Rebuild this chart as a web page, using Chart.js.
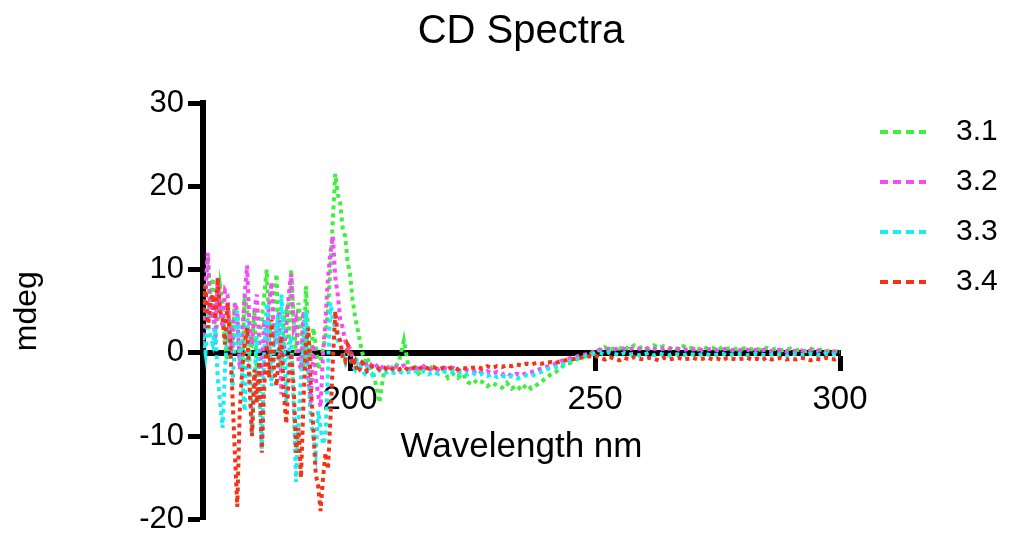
<!DOCTYPE html>
<html>
<head>
<meta charset="utf-8">
<title>CD Spectra</title>
<script src="https://cdn.jsdelivr.net/npm/chart.js@4.4.1/dist/chart.umd.min.js"></script>
<style>
  html, body { margin: 0; padding: 0; background: #fff; }
</style>
</head>
<body>
<canvas id="cd-chart" width="1010" height="542"></canvas>
<script>
// Scan grid: 0.5 nm steps from 170 to 205 nm, then 1 nm steps up to 300 nm
const fineNm = Array.from({ length: 71 }, (_, i) => 170 + i * 0.5);
const coarseNm = Array.from({ length: 95 }, (_, i) => 206 + i);
const wavelengthNm = fineNm.concat(coarseNm);

const seriesNames = ["3.1", "3.2", "3.3", "3.4"];
const seriesColors = ["#3ef03e", "#f54cf5", "#16f0f0", "#f53214"];

const xTickValues = [200, 250, 300];
const yTickStep = 10;

// mdeg readings (170-205 nm every 0.5 nm, then every 1 nm)
const cd31 = [
  3, 7, 11.5, 6, 9, 2, 4, 8, 6, 1,
  -1, 4, 2, 6, 3, -1, -2, 7, 5, 0,
  1, 5, -3, 2, 4, 7, 10, 3, 2, 6,
  9.5, 1, -2, 4, 5, 1, 10, 4, 0, 6,
  3, -2, 8, 2, -1, 3, 1, -2, -1, 0.5,
  2, 5, 10, 16, 21.5, 19, 18, 15, 14, 11,
  9.5, 6.5, 4.5, 3, 1.5, 0, -1, -0.5, -1.5, -2,
  -3,
  -6, -2, -1.5, -2,
  -1, 1.5, -2, -1.5, -2.5, -2, -1.5, -2, -2.5, -2,
  -3, -2.5, -3, -2.5, -3.5, -3.8, -3.2, -3.5, -4, -3.6,
  -3.9, -4.2, -3.6, -4.3, -3.9, -4.5, -3.8, -4.3, -3.9, -3.5,
  -3, -2.6, -2.3, -1.8, -1.3, -1.2, -0.8, -0.7, -0.4, -0.2,
  0.1, 0.4, 0.7, 0.3, 0.6, 0.5, 0.8, 0.4, 0.9, 0.6,
  0.7, 0.5, 0.9, 0.6, 0.8, 0.5, 0.7, 0.4, 0.8, 0.5,
  0.6, 0.4, 0.7, 0.5, 0.6, 0.3, 0.7, 0.5, 0.6, 0.4,
  0.5, 0.6, 0.4, 0.5, 0.3, 0.6, 0.4, 0.5, 0.3, 0.4,
  0.5, 0.3, 0.4, 0.2, 0.5, 0.3, 0.4, 0.2, 0.3, 0.2,
  0.1
];

const cd32 = [
  1, 8, 12, 4, 6, 1, 9, 5, 3, 7.5,
  7, 2, 0, 6, 5, -2, 2, 7, 10.5, 3,
  1, 5, 7, 1, -3, 4, 2, 6, 8.5, 2,
  1, 5, -5, 0, 3, 7, 9.5, 3, 4, -1,
  -2, 5, 1, -3, -6, 1, -3, -5, -6.5, 0,
  4, 9, 12, 14, 9, 7, 4, 3, 1.5, 0.5,
  0.5, -0.5, -1, -1.2, -1.5, -1.1, -1, -1.6, -1.8, -1.3,
  -1.2,
  -2, -1.5, -1.8, -1.6,
  -1.8, -1.5, -2, -1.7, -1.9, -1.6, -2.1, -1.8, -2, -1.7,
  -2, -1.8, -2.2, -1.9, -2.1, -2.3, -2, -2.4, -2.2, -2.5,
  -2.3, -2.6, -2.4, -2.8, -2.5, -2.7, -2.4, -2.3, -2.1, -1.9,
  -1.7, -1.5, -1.3, -1, -0.8, -0.6, -0.5, -0.3, -0.2, 0,
  0.2, 0.4, 0.3, 0.5, 0.4, 0.6, 0.5, 0.4, 0.6, 0.5,
  0.4, 0.6, 0.5, 0.4, 0.5, 0.6, 0.4, 0.5, 0.3, 0.5,
  0.4, 0.5, 0.3, 0.4, 0.5, 0.3, 0.4, 0.5, 0.3, 0.4,
  0.3, 0.4, 0.2, 0.4, 0.3, 0.4, 0.2, 0.3, 0.4, 0.2,
  0.3, 0.2, 0.3, 0.1, 0.3, 0.2, 0.3, 0.1, 0.2, 0.1,
  0.1
];

const cd33 = [
  2, 0, 4, 2, 1, 3, -3, -6, -9, -2,
  3, 0, -4, 1, 5, 2, -3, -7, 4, -1,
  -10, -3, 2, -5, -11.5, 0, 6, 2, -4, 1,
  3, -2, 7, 2, -6, 0, 2, -6, -15.5, -8,
  -3, 1, 5, -2, -8, -10, -12, -7, -9, -11,
  -10, -2, 6, 4, 3, 1.5, 1, 0, -1, 0.5,
  -0.5, -1.5, -2, -1, -1.5, -2.2, -2.5, -1.8, -2, -2.6,
  -2.3,
  -2.1, -2.5, -2.2, -2.4,
  -2.2, -2.5, -2.3, -2.1, -2.4, -2.2, -2.6, -2.3, -2.5, -2.2,
  -2.4, -2.2, -2.5, -2.3, -2.6, -2.4, -2.7, -2.5, -2.8, -2.6,
  -2.9, -2.7, -3, -2.8, -3.1, -2.9, -2.7, -2.8, -2.5, -2.3,
  -2, -1.8, -1.7, -1.5, -1.2, -1, -0.8, -0.6, -0.4, -0.2,
  -0.1, 0, -0.2, 0.1, -0.1, -0.3, 0, -0.2, -0.1, -0.3,
  -0.2, 0, -0.3, -0.1, -0.2, -0.3, -0.1, -0.2, -0.3, -0.1,
  -0.2, -0.3, -0.1, -0.2, -0.3, -0.2, -0.1, -0.3, -0.2, -0.1,
  -0.2, -0.3, -0.2, -0.1, -0.2, -0.3, -0.2, -0.1, -0.2, -0.3,
  -0.1, -0.2, -0.3, -0.2, -0.1, -0.2, -0.3, -0.1, -0.2, -0.2,
  -0.1
];

const cd34 = [
  5, 8, 3, 6, 7, 4, 9, 5, 4, 1,
  6, 2, -5, -12, -18.5, -7, -2, 1, 3, -4,
  -10, -2, -6, -1, -12, -4, 1, -3, 4, -2,
  -4, 0, 2, -5, -8.5, -3, 0, -4, -12, -9,
  -15, -6, 1, 3, -4, -9, -14.5, -16, -19, -15,
  -12, -14, -8, -1, 5, 2, 1.5, -0.5, -1, 1,
  0.5, -1.5, -1, -2.3, -2, -1.2, -1.5, -2.2, -2, -1.6,
  -1.5,
  -2, -1.8, -2.2, -1.8,
  -2, -1.7, -2.1, -1.8, -2, -1.6, -1.9, -1.7, -2, -1.8,
  -1.9, -1.7, -2, -1.8, -1.9, -1.8, -1.7, -1.9, -1.6, -1.8,
  -1.6, -1.7, -1.5, -1.6, -1.4, -1.5, -1.3, -1.4, -1.2, -1.3,
  -1.2, -1.1, -1.2, -1, -0.9, -0.8, -0.7, -0.6, -0.5, -0.4,
  -0.3, -0.6, -0.8, -0.5, -0.7, -0.9, -0.6, -0.8, -0.5, -0.7,
  -0.8, -0.6, -0.7, -0.9, -0.6, -0.8, -0.7, -0.6, -0.8, -0.7,
  -0.6, -0.8, -0.7, -0.6, -0.8, -0.7, -0.9, -0.6, -0.7, -0.8,
  -0.7, -0.6, -0.8, -0.7, -0.9, -0.6, -0.8, -0.7, -0.6, -0.8,
  -0.7, -0.8, -0.6, -0.7, -0.9, -0.7, -0.8, -0.6, -0.7, -0.8,
  -0.6
];

const seriesValues = [cd31, cd32, cd33, cd34];

Chart.defaults.font.family = '"Liberation Sans", Arial, sans-serif';
Chart.defaults.color = "#000";

// dashed keys to the right of the plot
const sideLegend = {
  id: "sideLegend",
  afterDraw(chart) {
    const { ctx, chartArea } = chart;
    const x0 = chartArea.right + 40;
    ctx.save();
    chart.data.datasets.forEach((ds, i) => {
      const y = chartArea.top + 29 + i * 50;
      ctx.strokeStyle = ds.borderColor;
      ctx.lineWidth = 4;
      ctx.setLineDash([8, 5]);
      ctx.beginPath();
      ctx.moveTo(x0, y);
      ctx.lineTo(x0 + 46, y);
      ctx.stroke();
      ctx.setLineDash([]);
      ctx.fillStyle = "#000";
      ctx.font = '30px "Liberation Sans", Arial, sans-serif';
      ctx.textBaseline = "middle";
      ctx.fillText(ds.label, x0 + 76, y);
    });
    ctx.restore();
  }
};

const datasets = seriesNames.map((name, i) => ({
  label: name,
  data: wavelengthNm.map((nm, j) => ({ x: nm, y: seriesValues[i][j] })),
  borderColor: seriesColors[i],
  backgroundColor: seriesColors[i],
  borderWidth: 4,
  borderDash: [4, 4],
  pointRadius: 0,
  tension: 0,
  fill: false,
  order: seriesNames.length - 1 - i
}));

new Chart(document.getElementById("cd-chart"), {
  type: "line",
  data: { datasets: datasets },
  plugins: [sideLegend],
  options: {
    responsive: false,
    animation: false,
    // right side: an empty axis keeps room for the keys
    layout: { padding: { left: 0, right: -32, top: 0, bottom: 15 } },
    plugins: {
      legend: { display: false },
      tooltip: { enabled: false },
      title: {
        display: true,
        text: "CD Spectra",
        color: "#000",
        font: { size: 40, weight: "normal" },
        padding: { top: 8, bottom: 47 }
      }
    },
    scales: {
      x: {
        type: "linear",
        position: { y: 0 },
        min: 170,
        max: 300,
        afterBuildTicks: (scale) => {
          scale.ticks = xTickValues.map((v) => ({ value: v }));
        },
        grid: { drawOnChartArea: false, drawTicks: true, tickLength: 15, tickWidth: 5, tickColor: "#000" },
        border: { display: true, color: "#000", width: 6 },
        ticks: { color: "#000", font: { size: 33 }, padding: 12, maxRotation: 0 },
        title: {
          display: true,
          text: "Wavelength nm",
          color: "#000",
          font: { size: 35 },
          padding: { top: -5, bottom: 0 }
        }
      },
      y: {
        min: -20,
        max: 30,
        afterFit: (scale) => { scale.width = 203; },
        grid: { drawOnChartArea: false, drawTicks: true, tickLength: 15, tickWidth: 5, tickColor: "#000" },
        border: { display: true, color: "#000", width: 6 },
        ticks: { stepSize: yTickStep, color: "#000", font: { size: 31 }, padding: 4 },
        title: {
          display: true,
          text: "mdeg",
          color: "#000",
          font: { size: 32 },
          padding: { top: 8, bottom: 0 }
        }
      },
      keySpace: {
        position: "right",
        afterFit: (scale) => { scale.width = 202; },
        grid: { display: false },
        border: { display: false },
        ticks: { display: false }
      }
    }
  }
});
</script>
</body>
</html>
